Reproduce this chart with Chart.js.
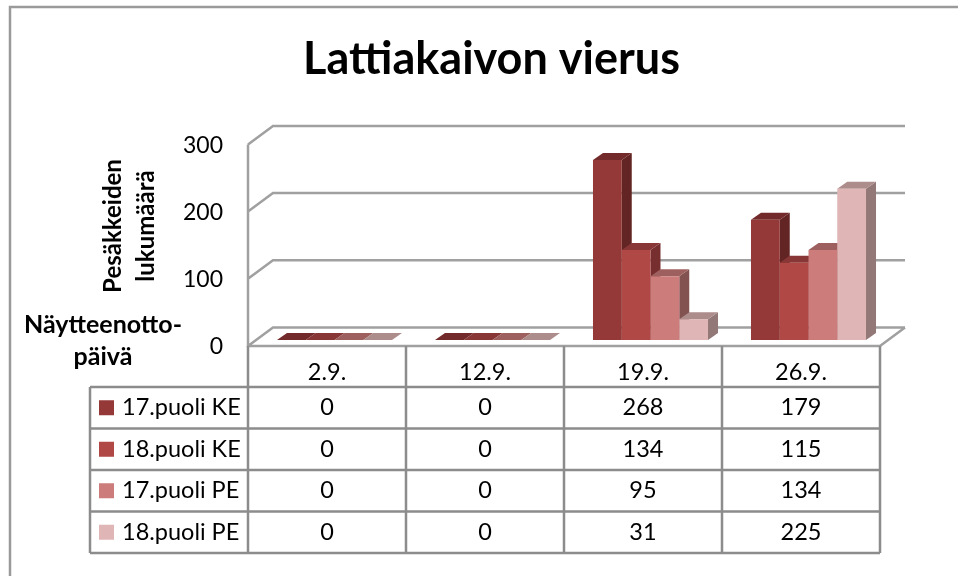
<!DOCTYPE html>
<html>
<head>
<meta charset="utf-8">
<style>html,body{margin:0;padding:0;background:#fff}canvas{display:block}</style>
<script src="https://cdn.jsdelivr.net/npm/chart.js@4/dist/chart.umd.min.js"></script>
</head>
<body>
<canvas id="c" width="958" height="576"></canvas>
<script>
const categories = ['2.9.', '12.9.', '19.9.', '26.9.'];
const seriesNames = ['17.puoli KE', '18.puoli KE', '17.puoli PE', '18.puoli PE'];
const puoli17KE = [0, 0, 268, 179];
const puoli18KE = [0, 0, 134, 115];
const puoli17PE = [0, 0, 95, 134];
const puoli18PE = [0, 0, 31, 225];
const seriesValues = [puoli17KE, puoli18KE, puoli17PE, puoli18PE];
const yTicks = [0, 100, 200, 300];
const frontColors = ['#953938', '#B04846', '#CC7C7A', '#DFB5B5'];
const sideColors = ['#632523', '#762F2E', '#825250', '#927977'];
const topColors = ['#722B2A', '#883736', '#9E605E', '#AD8D8C'];
const titleText = 'Lattiakaivon vierus';
const yTitleLines = ['Pesäkkeiden', 'lukumäärä'];
const xTitleLines = ['Näytteenotto-', 'päivä'];

const FONT = 'Lato, Carlito, Calibri, sans-serif';
const GRID = '#a0a0a0', TABLE = '#8c8c8c';

const frame3d = {
  id: 'frame3d',
  beforeDraw(chart) {
    const ctx = chart.ctx, y = chart.scales.y, x = chart.scales.x;
    const fx0 = x.left - 7.5, fx1 = x.right - 7.5, dx = 25, dy = 18.5, off = 6;
    ctx.save();
    // outer border: top and left only
    ctx.strokeStyle = '#9a9a9a'; ctx.lineWidth = 2.5;
    ctx.beginPath(); ctx.moveTo(10, 576); ctx.lineTo(10, 7); ctx.lineTo(958, 7); ctx.stroke();
    // walls
    ctx.strokeStyle = GRID; ctx.lineWidth = 2.5;
    ctx.beginPath();
    yTicks.forEach(v => {
      const fy = y.getPixelForValue(v) + off;
      ctx.moveTo(fx0, fy); ctx.lineTo(fx0 + dx, fy - dy); ctx.lineTo(fx1 + dx, fy - dy);
    });
    const y0 = y.getPixelForValue(0) + off, yTop = y.getPixelForValue(yTicks[yTicks.length - 1]) + off;
    ctx.moveTo(fx0, yTop); ctx.lineTo(fx0, y0); ctx.lineTo(fx1, y0); ctx.lineTo(fx1 + dx, y0 - dy);
    ctx.stroke();
    ctx.restore();
  },
  beforeDatasetsDraw(chart) {
    const ctx = chart.ctx, dx = 10, dy = 7;
    ctx.save();
    for (let j = 0; j < categories.length; j++) {
      seriesValues.forEach((vals, i) => {
        const b = chart.getDatasetMeta(i).data[j];
        const l = b.x - b.width / 2, r = b.x + b.width / 2, t = b.y, base = b.base;
        ctx.fillStyle = sideColors[i];
        ctx.beginPath(); ctx.moveTo(r, t); ctx.lineTo(r + dx, t - dy); ctx.lineTo(r + dx, base - dy); ctx.lineTo(r, base); ctx.closePath(); ctx.fill();
        ctx.fillStyle = topColors[i];
        ctx.beginPath(); ctx.moveTo(l, t); ctx.lineTo(l + dx, t - dy); ctx.lineTo(r + dx, t - dy); ctx.lineTo(r, t); ctx.closePath(); ctx.fill();
      });
    }
    ctx.restore();
  },
  afterDraw(chart) {
    const ctx = chart.ctx, x = chart.scales.x;
    const colX = i => x.getPixelForTick(i) - 7.5;
    const cw = x.getPixelForTick(1) - x.getPixelForTick(0);
    const left = 90, fx0 = colX(0) - cw / 2, fx1 = colX(categories.length - 1) + cw / 2;
    const headTop = 346, rowTop = 387, rowH = 41.5, nRows = seriesNames.length;
    ctx.save();
    ctx.strokeStyle = TABLE; ctx.lineWidth = 2.5;
    ctx.beginPath();
    for (let r = 0; r <= nRows; r++) { ctx.moveTo(left, rowTop + r * rowH); ctx.lineTo(fx1, rowTop + r * rowH); }
    ctx.moveTo(left, rowTop); ctx.lineTo(left, rowTop + nRows * rowH);
    for (let c = 0; c <= categories.length; c++) {
      const cx = fx0 + c * cw;
      ctx.moveTo(cx, headTop); ctx.lineTo(cx, rowTop + nRows * rowH);
    }
    ctx.stroke();
    ctx.fillStyle = '#000'; ctx.textBaseline = 'middle';
    ctx.font = '23.5px ' + FONT;
    seriesNames.forEach((name, r) => {
      const cy = rowTop + (r + 0.5) * rowH;
      ctx.fillStyle = frontColors[r];
      ctx.fillRect(99, cy - 7.5, 15, 15);
      ctx.fillStyle = '#000'; ctx.textAlign = 'left';
      ctx.fillText(name, 122, cy);
      ctx.textAlign = 'center';
      categories.forEach((_, c) => ctx.fillText(String(seriesValues[r][c]), colX(c), cy));
    });
    // axis titles
    ctx.font = 'bold 25px ' + FONT;
    ctx.textAlign = 'center';
    ctx.fillText(xTitleLines[0], 103, 325);
    ctx.fillText(xTitleLines[1], 103, 357);
    ctx.font = 'bold 24px ' + FONT;
    ctx.save();
    ctx.translate(113, 226); ctx.rotate(-Math.PI / 2); ctx.fillText(yTitleLines[0], 0, 0); ctx.restore();
    ctx.save();
    ctx.translate(146, 226); ctx.rotate(-Math.PI / 2); ctx.fillText(yTitleLines[1], 0, 0); ctx.restore();
    ctx.restore();
  }
};

new Chart(document.getElementById('c'), {
  type: 'bar',
  data: {
    labels: categories,
    datasets: seriesNames.map((name, i) => ({
      label: name,
      data: seriesValues[i],
      backgroundColor: frontColors[i],
      borderWidth: 0,
      categoryPercentage: 0.728,
      barPercentage: 1
    }))
  },
  plugins: [frame3d],
  options: {
    responsive: false,
    animation: false,
    layout: { padding: { left: 95.5, right: 70.5, top: 0, bottom: 0 } },
    plugins: {
      legend: { display: false },
      tooltip: { enabled: false },
      title: {
        display: true,
        text: titleText,
        color: '#000',
        font: { family: FONT, size: 45, weight: 'bold', lineHeight: 1.2 },
        padding: { top: 32, bottom: 52.4 }
      }
    },
    scales: {
      x: {
        grid: { display: false, drawTicks: false },
        border: { display: false },
        afterFit(s) { s.height = 236; },
        ticks: {
          autoSkip: false, maxRotation: 0, minRotation: 0, padding: 18, labelOffset: -7.5,
          color: '#000', font: { family: FONT, size: 23.5 }
        }
      },
      y: {
        min: 0, max: 300,
        grid: { display: false, drawTicks: false },
        border: { display: false },
        afterFit(s) { s.width = 160; },
        afterBuildTicks(s) { s.ticks = yTicks.map(v => ({ value: v })); },
        ticks: {
          padding: 32.5, labelOffset: 7,
          color: '#000', font: { family: FONT, size: 23 }
        }
      }
    }
  }
});
</script>
</body>
</html>
